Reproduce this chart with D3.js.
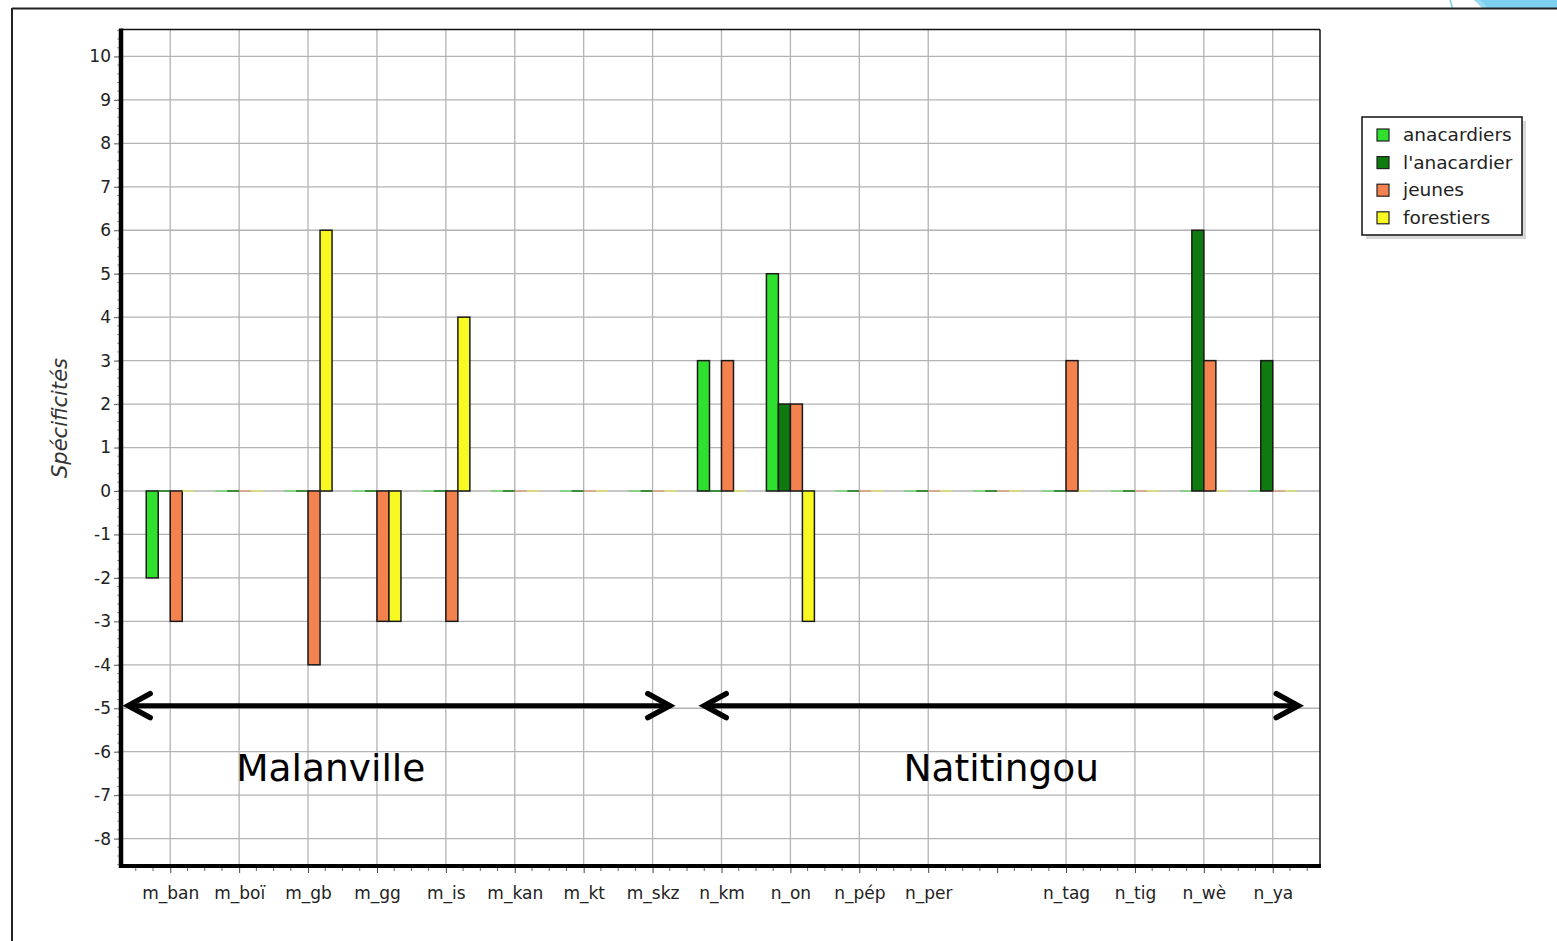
<!DOCTYPE html>
<html>
<head>
<meta charset="utf-8">
<script src="https://cdn.jsdelivr.net/npm/d3@7"></script>
<style>
  html, body { margin: 0; padding: 0; background: #fff; }
  svg { display: block; }
</style>
</head>
<body>
<svg id="chart" width="1557" height="941"></svg>
<script>
// ---------- DATA ----------
const categories = ["m_ban","m_boï","m_gb","m_gg","m_is","m_kan","m_kt","m_skz",
                    "n_km","n_on","n_pép","n_per","","n_tag","n_tig","n_wè","n_ya"];
const seriesNames = ["anacardiers","l'anacardier","jeunes","forestiers"];
const anacardiers   = [-2,0,0,0,0,0,0,0, 3,5,0,0,0,0,0,0,0];
const lanacardier   = [ 0,0,0,0,0,0,0,0, 0,2,0,0,0,0,0,6,3];
const jeunes        = [-3,0,-4,-3,-3,0,0,0, 3,2,0,0,0,3,0,3,0];
const forestiers    = [ 0,0,6,-3,4,0,0,0, 0,-3,0,0,0,0,0,0,0];
const yTicks = [-8,-7,-6,-5,-4,-3,-2,-1,0,1,2,3,4,5,6,7,8,9,10];
const yTitle = "Spécificités";
const groupLabels = ["Malanville","Natitingou"];

// ---------- STYLE / LAYOUT ----------
const colors = ["#2fe02f","#0f7a0f","#f3824f","#f8f822"];
const seriesValues = [anacardiers, lanacardier, jeunes, forestiers];
const L = 121, R = 1320, T = 29.5, B = 866;

const svg = d3.select("#chart");

const x = d3.scalePoint().domain(categories.map((c,i)=>i)).range([L+1, R+1]).padding(0.7);
const step = x.step();
const y = d3.scaleLinear().domain([-8.63, 10.62]).range([B, T]);
const bw = 12;
const xi = v => x(0) + v * step;   // fractional category index -> pixel

// outer slide frame + decoration
svg.append("polygon").attr("points","1474,0 1557,0 1557,8 1486,8").attr("fill","#7dd0ee");
svg.append("polygon").attr("points","1474,0 1480,0 1488,8 1482,8").attr("fill","#9ddcf3");
svg.append("line").attr("x1",1450).attr("y1",0).attr("x2",1452.5).attr("y2",8).attr("stroke","#7dd0ee").attr("stroke-width",1.5);
svg.append("line").attr("x1",12).attr("y1",8.5).attr("x2",1557).attr("y2",8.5).attr("stroke","#222").attr("stroke-width",2);
svg.append("line").attr("x1",12).attr("y1",8).attr("x2",12).attr("y2",941).attr("stroke","#222").attr("stroke-width",2);

// plot background
svg.append("rect").attr("x",L).attr("y",T).attr("width",R-L).attr("height",B-T).attr("fill","#fff");

// grid
const grid = svg.append("g");
grid.selectAll("line.h").data(yTicks).join("line")
  .attr("x1",L).attr("x2",R).attr("y1",d=>y(d)).attr("y2",d=>y(d))
  .attr("stroke","#b3b3b3").attr("stroke-width",1.3);
grid.selectAll("line.v").data(categories.map((c,i)=>i).filter(i=>categories[i]!=="")).join("line")
  .attr("x1",d=>x(d)).attr("x2",d=>x(d)).attr("y1",T).attr("y2",B)
  .attr("stroke","#b3b3b3").attr("stroke-width",1.3);

// bars
const bars = svg.append("g");
seriesValues.forEach((vals, s) => {
  vals.forEach((v, i) => {
    const x0 = x(i) + (s - 2) * bw;
    if (v === 0) {
      bars.append("rect").attr("x", x0).attr("y", y(0) - 1).attr("width", bw).attr("height", 2)
        .attr("fill", colors[s]).attr("opacity", s === 1 ? 0.75 : 0.4);
    } else {
      bars.append("rect").attr("x", x0).attr("y", Math.min(y(v), y(0)))
        .attr("width", bw).attr("height", Math.abs(y(v) - y(0)))
        .attr("fill", colors[s]).attr("stroke", "#1a1a1a").attr("stroke-width", 1.5);
    }
  });
});

// top / right border
svg.append("line").attr("x1",L).attr("x2",R).attr("y1",T).attr("y2",T).attr("stroke","#111").attr("stroke-width",1.5);
svg.append("line").attr("x1",R).attr("x2",R).attr("y1",T).attr("y2",B).attr("stroke","#111").attr("stroke-width",1.5);

// y axis
const yAxis = d3.axisLeft(y).tickValues(yTicks).tickSize(6).tickPadding(3).tickFormat(d => String(d));
const gy = svg.append("g").attr("transform",`translate(${L-1},0)`).call(yAxis);
gy.select(".domain").remove();
gy.selectAll(".tick line").attr("stroke","#555");
gy.selectAll("text").attr("font-family","DejaVu Sans").attr("font-size",17).attr("fill","#222");
// minor y ticks
const minorY = d3.range(-43, 54).map(k => k / 5).filter(v => v >= -8.6 && v <= 10.6);
svg.append("g").selectAll("line").data(minorY).join("line")
  .attr("x1",L-4).attr("x2",L-1).attr("y1",d=>y(d)).attr("y2",d=>y(d))
  .attr("stroke","#999").attr("stroke-width",1);
svg.append("line").attr("x1",L).attr("x2",L).attr("y1",T-1).attr("y2",B+2).attr("stroke","#000").attr("stroke-width",4.5);

// x axis
const xAxis = d3.axisBottom(x).tickSize(7).tickPadding(14).tickFormat(i => categories[i]);
const gx = svg.append("g").attr("transform",`translate(0,${B})`).call(xAxis);
gx.select(".domain").remove();
gx.selectAll(".tick line").attr("stroke","#444");
gx.selectAll("text").attr("font-family","DejaVu Sans").attr("font-size",17).attr("fill","#222");
const minorX = d3.range(-3, 16*4 + 4).map(k => k / 4).filter(k => k % 1 !== 0 && xi(k) > L + 2 && xi(k) < R - 1);
svg.append("g").selectAll("line").data(minorX).join("line")
  .attr("x1",d=>xi(d)).attr("x2",d=>xi(d)).attr("y1",B).attr("y2",B+5)
  .attr("stroke","#666").attr("stroke-width",1);
svg.append("line").attr("x1",L-2).attr("x2",R+1).attr("y1",B).attr("y2",B).attr("stroke","#000").attr("stroke-width",4);

// y title
svg.append("text").attr("transform",`translate(67,${y(1.68)}) rotate(-90)`)
  .attr("text-anchor","middle").attr("font-family","DejaVu Sans").attr("font-style","oblique")
  .attr("font-size",21).attr("fill","#333").text(yTitle);

// legend
const lg = svg.append("g").attr("transform","translate(1362,117)");
lg.append("rect").attr("x",4).attr("y",4).attr("width",160).attr("height",118).attr("fill","#bdbdbd").attr("opacity",0.6);
lg.append("rect").attr("x",0).attr("y",0).attr("width",160).attr("height",118).attr("fill","#fff").attr("stroke","#111").attr("stroke-width",1.5);
seriesNames.forEach((n, i) => {
  lg.append("rect").attr("x",15).attr("y",12 + i*27.6).attr("width",12).attr("height",12)
    .attr("fill",colors[i]).attr("stroke","#222").attr("stroke-width",1.2);
  lg.append("text").attr("x",41).attr("y",24 + i*27.6).attr("font-family","DejaVu Sans")
    .attr("font-size",18.5).attr("fill","#222").text(n);
});

// annotations: arrows + group labels
const annots = [
  {label: groupLabels[0], from: -0.61, to: 7.25, textAt: 2.33},
  {label: groupLabels[1], from: 7.75, to: 16.37, textAt: 12.06}
];
const ay = y(-4.94);
const an = svg.append("g");
annots.forEach(a => {
  const x1 = xi(a.from), x2 = xi(a.to);
  an.append("line").attr("x1",x1+2).attr("x2",x2-2).attr("y1",ay).attr("y2",ay)
    .attr("stroke","#000").attr("stroke-width",5).attr("stroke-linecap","round");
  an.append("path").attr("d",`M${x1+22},${ay-12} L${x1},${ay} L${x1+22},${ay+12}`)
    .attr("fill","none").attr("stroke","#000").attr("stroke-width",5.5)
    .attr("stroke-linecap","round").attr("stroke-linejoin","miter");
  an.append("path").attr("d",`M${x2-22},${ay-12} L${x2},${ay} L${x2-22},${ay+12}`)
    .attr("fill","none").attr("stroke","#000").attr("stroke-width",5.5)
    .attr("stroke-linecap","round").attr("stroke-linejoin","miter");
  an.append("text").attr("x",xi(a.textAt)).attr("y",y(-6.67)).attr("text-anchor","middle")
    .attr("font-family","DejaVu Sans").attr("font-size",37.5).attr("fill","#000").text(a.label);
});
</script>
</body>
</html>
